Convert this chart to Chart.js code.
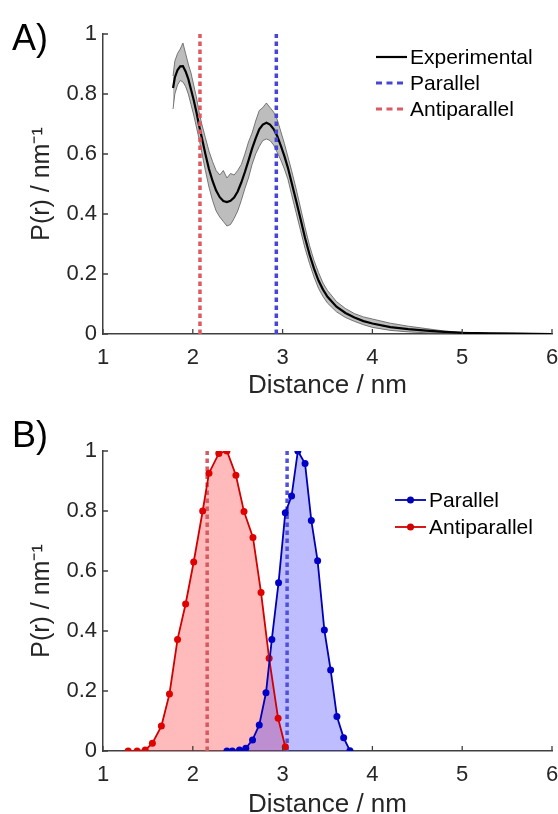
<!DOCTYPE html>
<html>
<head>
<meta charset="utf-8">
<script src="https://cdn.jsdelivr.net/npm/chart.js@4.4.1/dist/chart.umd.min.js"></script>
<style>
body { margin: 0; background: #fff; }
#wrap { position: relative; width: 558px; height: 814px; overflow: hidden; background: #fff; }
canvas { position: absolute; left: 0; }
#chartA { top: 0; }
#chartB { top: 400px; }
</style>
</head>
<body>
<div id="wrap">
<canvas id="chartA" width="558" height="400"></canvas>
<canvas id="chartB" width="558" height="420"></canvas>
</div>
<script>
// ---- panel A: experimental P(r) with confidence band ----
const expX = [1.78, 1.80, 1.83, 1.86, 1.89, 1.92, 1.95, 1.98, 2.01, 2.04, 2.07, 2.10, 2.14, 2.18, 2.22, 2.26, 2.30, 2.34, 2.38, 2.42,
  2.46, 2.50, 2.54, 2.58, 2.62, 2.66, 2.70, 2.74, 2.78, 2.82, 2.86, 2.90, 2.94, 2.98, 3.02, 3.06, 3.10, 3.15, 3.20, 3.25,
  3.30, 3.35, 3.40, 3.45, 3.50, 3.60, 3.70, 3.80, 3.90, 4.00, 4.20, 4.40, 4.60, 4.80, 5.00, 5.30, 5.60, 6.00];
const expMean = [0.82, 0.855, 0.88, 0.892, 0.893, 0.875, 0.85, 0.815, 0.78, 0.74, 0.695, 0.655, 0.60, 0.55, 0.51, 0.478, 0.456, 0.443, 0.44, 0.444,
  0.455, 0.475, 0.505, 0.54, 0.578, 0.618, 0.652, 0.682, 0.698, 0.704, 0.698, 0.683, 0.66, 0.628, 0.593, 0.553, 0.505, 0.445, 0.383, 0.32,
  0.265, 0.218, 0.178, 0.148, 0.124, 0.091, 0.07, 0.055, 0.043, 0.035, 0.023, 0.016, 0.011, 0.007, 0.004, 0.002, 0.001, 0.0];
const expUpper = [0.86, 0.91, 0.935, 0.95, 0.97, 0.935, 0.90, 0.87, 0.83, 0.79, 0.74, 0.70, 0.655, 0.61, 0.575, 0.545, 0.53, 0.545, 0.52, 0.535,
  0.53, 0.545, 0.565, 0.60, 0.64, 0.67, 0.71, 0.745, 0.755, 0.77, 0.755, 0.74, 0.715, 0.675, 0.635, 0.59, 0.545, 0.485, 0.42, 0.355,
  0.295, 0.245, 0.205, 0.17, 0.145, 0.108, 0.085, 0.068, 0.057, 0.05, 0.036, 0.026, 0.018, 0.01, 0.006, 0.003, 0.002, 0.001];
const expLower = [0.75, 0.80, 0.83, 0.845, 0.84, 0.825, 0.80, 0.765, 0.73, 0.69, 0.65, 0.605, 0.545, 0.49, 0.445, 0.41, 0.39, 0.375, 0.36, 0.365,
  0.385, 0.41, 0.445, 0.485, 0.52, 0.565, 0.60, 0.625, 0.645, 0.65, 0.645, 0.63, 0.605, 0.58, 0.55, 0.515, 0.465, 0.405, 0.345, 0.285,
  0.235, 0.19, 0.152, 0.125, 0.103, 0.074, 0.055, 0.042, 0.031, 0.022, 0.012, 0.007, 0.004, 0.003, 0.002, 0.001, 0.0, 0.0];
const parallelA = 2.93;
const antiparallelA = 2.08;

// ---- panel B: simulated distributions ----
const parX = [2.38, 2.44, 2.52, 2.59, 2.665, 2.74, 2.815, 2.88, 2.955, 3.03, 3.10, 3.17, 3.25, 3.32, 3.39, 3.465, 3.535, 3.605, 3.68, 3.75];
const parY = [0.0, 0.0, 0.003, 0.009, 0.037, 0.087, 0.194, 0.372, 0.561, 0.794, 0.85, 1.0, 0.958, 0.768, 0.634, 0.403, 0.27, 0.115, 0.044, 0.001];
const antiX = [1.28, 1.38, 1.47, 1.55, 1.65, 1.74, 1.83, 1.92, 2.01, 2.11, 2.18, 2.29, 2.38, 2.48, 2.57, 2.67, 2.76, 2.85, 2.95, 3.03];
const antiY = [0.0, 0.0, 0.003, 0.026, 0.083, 0.19, 0.372, 0.49, 0.63, 0.80, 0.926, 0.992, 1.0, 0.919, 0.798, 0.712, 0.528, 0.309, 0.109, 0.014];
const parallelB = 3.05;
const antiparallelB = 2.16;

const xTicks = [1, 2, 3, 4, 5, 6];
const yTicks = [0, 0.2, 0.4, 0.6, 0.8, 1];

const FONT = '"Liberation Sans", Arial, sans-serif';
const AXIS = '#404040';
Chart.defaults.font.family = FONT;
Chart.defaults.color = '#262626';

const toPoints = (xs, ys) => xs.map((x, i) => ({ x: x, y: ys[i] }));
const vline = (x) => [{ x: x, y: 0 }, { x: x, y: 1 }];

// inward ticks, panel letter and legend drawn on top
const extras = {
  id: 'extras',
  afterDraw(chart, args, opts) {
    const ctx = chart.ctx;
    const xs = chart.scales.x, ys = chart.scales.y;
    const area = chart.chartArea;
    ctx.save();
    ctx.strokeStyle = AXIS;
    ctx.lineWidth = 1.3;
    ctx.beginPath();
    xTicks.forEach(v => {
      const p = xs.getPixelForValue(v);
      ctx.moveTo(p, area.bottom);
      ctx.lineTo(p, area.bottom - 5);
    });
    yTicks.forEach(v => {
      const p = ys.getPixelForValue(v);
      ctx.moveTo(area.left, p);
      ctx.lineTo(area.left + 5, p);
    });
    ctx.stroke();

    ctx.fillStyle = '#000';
    ctx.font = '36px ' + FONT;
    ctx.textBaseline = 'alphabetic';
    ctx.fillText(opts.panel, 12, opts.panelY);

    ctx.font = '21px ' + FONT;
    ctx.textBaseline = 'middle';
    let y = opts.legendY;
    chart.data.datasets.forEach(ds => {
      if (!ds.label) return;
      ctx.strokeStyle = ds.borderColor;
      ctx.lineWidth = ds.legendWidth || ds.borderWidth;
      ctx.setLineDash(ds.legendDash || []);
      ctx.beginPath();
      ctx.moveTo(opts.legendX, y);
      ctx.lineTo(opts.legendX + 31, y);
      ctx.stroke();
      ctx.setLineDash([]);
      if (ds.pointRadius) {
        ctx.fillStyle = ds.borderColor;
        ctx.beginPath();
        ctx.arc(opts.legendX + 15.5, y, 3.5, 0, Math.PI * 2);
        ctx.fill();
      }
      ctx.fillStyle = '#000';
      ctx.fillText(ds.label, opts.legendX + 34, y + 1.5);
      y += opts.legendGap;
    });
    ctx.restore();
  }
};

const makeScales = (xAxisHeight, titlePad) => ({
  x: {
    type: 'linear',
    min: 1,
    max: 6,
    afterBuildTicks: s => { s.ticks = xTicks.map(v => ({ value: v })); },
    afterFit: s => { s.height = xAxisHeight; s.paddingLeft = 0; s.paddingRight = 0; },
    grid: { display: false, drawTicks: false },
    border: { display: true, color: AXIS, width: 1.5 },
    ticks: { padding: 11, font: { size: 22 }, color: '#262626', callback: v => String(v) },
    title: { display: true, text: 'Distance / nm', color: '#262626', font: { size: 26, lineHeight: 1 }, padding: { top: 0, bottom: titlePad } }
  },
  y: {
    min: 0,
    max: 1,
    afterBuildTicks: s => { s.ticks = yTicks.map(v => ({ value: v })); },
    afterFit: s => { s.width = 103; },
    grid: { display: false, drawTicks: false },
    border: { display: true, color: AXIS, width: 1.5 },
    ticks: { padding: 6, font: { size: 22 }, color: '#262626', callback: v => String(v) },
    title: { display: true, text: 'P(r) / nm⁻¹', color: '#262626', font: { size: 25, lineHeight: 1.2 }, padding: { top: 27, bottom: 0 } }
  }
});

const chartA = new Chart(document.getElementById('chartA'), {
  type: 'line',
  data: {
    datasets: [
      { label: 'Experimental', data: toPoints(expX, expMean), borderColor: '#000', borderWidth: 2.2, pointRadius: 0, fill: false, order: 1 },
      { label: 'Parallel', data: vline(parallelA), borderColor: '#4646d2', borderWidth: 3.5, borderDash: [4.5, 3.5], legendDash: [6, 4.5], legendWidth: 3, pointRadius: 0, fill: false, order: 0 },
      { label: 'Antiparallel', data: vline(antiparallelA), borderColor: '#dc5a64', borderWidth: 3.5, borderDash: [4.5, 3.5], legendDash: [6, 4.5], legendWidth: 3, pointRadius: 0, fill: false, order: 0 },
      { data: toPoints(expX, expUpper), borderColor: '#5a5a5a', borderWidth: 0.8, pointRadius: 0, fill: false, order: 2 },
      { data: toPoints(expX, expLower), borderColor: '#5a5a5a', borderWidth: 0.8, pointRadius: 0, fill: 3, backgroundColor: '#bdbdbd', order: 2 }
    ]
  },
  options: {
    responsive: false,
    animation: false,
    devicePixelRatio: 1,
    layout: { padding: { top: 34, right: 6, bottom: 0, left: 0 } },
    scales: makeScales(66, 1),
    plugins: {
      legend: { display: false },
      tooltip: { enabled: false },
      filler: { drawTime: 'beforeDatasetsDraw' },
      extras: { panel: 'A)', panelY: 50, legendX: 376, legendY: 57, legendGap: 26 }
    }
  },
  plugins: [extras]
});

const chartB = new Chart(document.getElementById('chartB'), {
  type: 'line',
  data: {
    datasets: [
      { label: 'Parallel', data: toPoints(parX, parY), borderColor: '#0000b4', backgroundColor: 'rgba(50, 50, 255, 0.32)', pointBackgroundColor: '#0000c8',
        borderWidth: 1.8, pointRadius: 3.5, pointBorderWidth: 0, fill: 'origin', order: 1 },
      { label: 'Antiparallel', data: toPoints(antiX, antiY), borderColor: '#d00000', backgroundColor: 'rgba(255, 60, 60, 0.35)', pointBackgroundColor: '#e00000',
        borderWidth: 1.8, pointRadius: 3.5, pointBorderWidth: 0, fill: 'origin', order: 1 },
      { data: vline(parallelB), borderColor: '#5050dc', borderWidth: 3.5, borderDash: [4.5, 3.5], pointRadius: 0, fill: false, order: 2 },
      { data: vline(antiparallelB), borderColor: '#d65a64', borderWidth: 3.5, borderDash: [4.5, 3.5], pointRadius: 0, fill: false, order: 2 }
    ]
  },
  options: {
    responsive: false,
    animation: false,
    devicePixelRatio: 1,
    layout: { padding: { top: 51, right: 6, bottom: 0, left: 0 } },
    scales: makeScales(69, 2),
    plugins: {
      legend: { display: false },
      tooltip: { enabled: false },
      filler: { drawTime: 'beforeDatasetsDraw' },
      extras: { panel: 'B)', panelY: 47, legendX: 395, legendY: 100, legendGap: 27 }
    }
  },
  plugins: [extras]
});
</script>
</body>
</html>
